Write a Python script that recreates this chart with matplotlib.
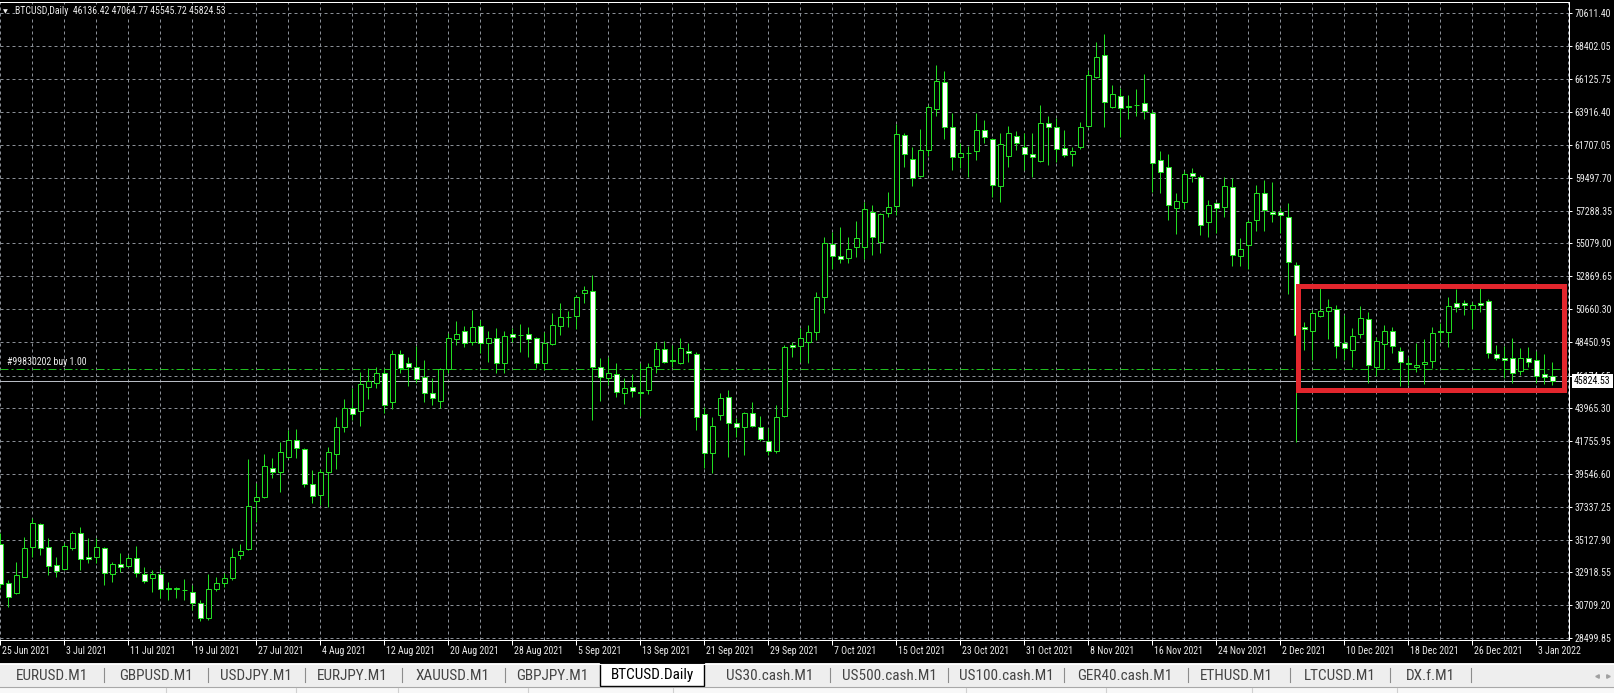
import datetime as dt
import matplotlib
matplotlib.use("Agg")
import matplotlib.pyplot as plt
from matplotlib.patches import Rectangle
from matplotlib import transforms
from matplotlib import font_manager as fm
import numpy as np

plt.rcParams['font.family'] = ['Liberation Sans', 'DejaVu Sans']

# ---------------- data ----------------
start_date = dt.date(2021, 6, 25)

opens = [34831, 32181, 31508, 32630, 34651, 36155, 34606, 33416, 33124, 34539,
         35549, 33933, 33933, 34539, 32787, 33461, 33371, 33865, 32787, 32518,
         32787, 31845, 31800, 31755, 31620, 30835, 29824, 31778, 32227, 32518,
         34090, 34472, 37749, 38019, 39972, 39702, 40668, 41850, 41229, 38849,
         38108, 39702, 40870, 42688, 43968, 43811, 45427, 45652, 46325, 44417,
         47605, 47043, 46729, 46056, 44978, 44484, 46594, 48660, 49154, 48413,
         49535, 48346, 48682, 47043, 48952, 48929, 48952, 48682, 46999, 48278,
         49535, 50142, 50209, 51713, 51893, 46774, 46033, 46258, 45023, 45382,
         45045, 45203, 46819, 47942, 47223, 46999, 47852, 47627, 43564, 40937,
         43519, 44753, 43003, 42733, 43676, 42733, 41790, 41117, 43452, 48234,
         48166, 48458, 49131, 51489, 55013, 54250, 54115, 54856, 54856, 57213,
         55193, 57101, 57595, 62355, 60738, 59616, 61367, 64105, 65969, 62938,
         60918, 61187, 61322, 62714, 62085, 58965, 60963, 62310, 61591, 61075,
         60648, 63162, 62938, 61479, 61075, 61591, 63005, 66261, 67765, 64240,
         65026, 64263, 64375, 64510, 63836, 60693, 60199, 57438, 57887, 59840,
         59571, 56495, 57775, 57505, 58897, 54227, 54968, 56652, 58448, 57213,
         57213, 56832, 53621, 49468, 49176, 50209, 50523, 50658, 48346, 47897,
         48974, 49984, 46774, 48278, 49199, 47852, 46999, 46774, 46931, 47156,
         49176, 49086, 51085, 51040, 50658, 51085, 51197, 47627, 47335, 47335,
         46482, 47380, 47223, 46258, 46136.42]
highs = [35549, 32406, 33641, 35325, 36559, 36268, 35212, 33978, 34876, 35729,
         35953, 35212, 35212, 34606, 33641, 34202, 34090, 34696, 33304, 33079,
         33192, 32294, 31957, 32451, 32069, 31059, 32787, 32630, 32900, 34539,
         34831, 40533, 38917, 40870, 40600, 41678, 42509, 42554, 41274, 39815,
         39860, 41341, 43406, 44574, 45360, 46437, 46662, 46729, 46662, 47897,
         47897, 47447, 48166, 47223, 45988, 46662, 49064, 49850, 49513, 50590,
         49917, 49176, 49356, 49176, 49356, 49648, 49423, 48750, 49131, 50366,
         51039, 50523, 51601, 52207, 52948, 47335, 47403, 47043, 45988, 46258,
         46999, 46999, 48458, 48525, 48234, 48683, 48346, 47784, 44080, 43406,
         44978, 45203, 43295, 43743, 44417, 43452, 42621, 44192, 48234, 48458,
         49356, 49580, 51827, 55530, 55866, 56158, 55530, 56607, 57887, 57662,
         57146, 58560, 63095, 62489, 61546, 62759, 64397, 67091, 66710, 63836,
         61815, 61636, 63836, 63387, 62152, 62534, 62983, 62646, 62489, 62489,
         64397, 63657, 63544, 62714, 61546, 63275, 66755, 68663, 69179, 65744,
         65565, 65071, 65475, 66485, 64060, 61299, 61075, 58448, 59952, 60132,
         59683, 57999, 57887, 59571, 59503, 55418, 56652, 59009, 59346, 59189,
         57438, 57819, 53846, 49805, 50591, 52050, 51309, 50927, 50254, 49356,
         50860, 50434, 48750, 49580, 49468, 48076, 47403, 48346, 48615, 49468,
         49693, 51444, 52005, 51264, 51152, 52050, 51309, 48233, 48166, 48682,
         48009, 48076, 47852, 47605, 47064.77]
lows = [31845, 30610, 31463, 32585, 33978, 34090, 32742, 32630, 33079, 34427,
        33079, 33529, 33574, 32069, 32294, 32967, 33304, 32585, 32181, 31620,
        31171, 31059, 31171, 31059, 30386, 29667, 29712, 31688, 31912, 32406,
        33798, 34427, 36335, 37906, 39254, 38355, 40600, 40600, 38647, 37615,
        37457, 37345, 39860, 42396, 43182, 42800, 44596, 45315, 43631, 43901,
        46325, 45472, 45697, 44417, 44192, 43968, 46370, 48233, 48076, 48233,
        47672, 47111, 46370, 46370, 48458, 47739, 47403, 46662, 46550, 48233,
        48907, 49423, 49289, 51040, 43182, 44484, 45539, 44754, 44259, 44754,
        43451, 44933, 46325, 47044, 46729, 46932, 47111, 42509, 39927, 39590,
        43183, 40712, 42060, 40825, 42733, 41790, 40825, 40982, 43362, 47448,
        47111, 46999, 48570, 50411, 53330, 53734, 53734, 54138, 54003, 54295,
        54407, 56877, 56966, 60244, 58942, 59571, 60963, 63657, 62085, 60020,
        60132, 59571, 60693, 61861, 58179, 57887, 60244, 61367, 60020, 59571,
        60581, 60356, 60581, 60918, 60311, 61412, 62938, 66193, 62938, 64173,
        62220, 63432, 63657, 63454, 58560, 58448, 56652, 55687, 57371, 59234,
        55642, 55485, 55754, 56877, 53554, 53554, 53330, 55934, 55934, 56540,
        55754, 51668, 41723, 47897, 47223, 50142, 48637, 47380, 47223, 46774,
        48727, 45697, 46146, 46595, 47717, 45472, 45539, 46437, 45607, 46662,
        48458, 48076, 50479, 50254, 49288, 50479, 47335, 47223, 45988, 45697,
        46213, 46729, 45652, 45584, 45545.72]
closes = [32137, 31239, 32742, 34539, 36223, 34539, 33349, 33035, 34696, 35549,
          33798, 33798, 34606, 32855, 33484, 33259, 33865, 32855, 32361, 32787,
          31778, 31778, 31868, 31710, 30835, 29824, 31778, 32227, 32518, 33933,
          34381, 37412, 37974, 40107, 39702, 41004, 41850, 41274, 38849, 38063,
          39657, 41004, 42688, 43968, 43564, 45607, 45809, 46370, 44192, 47605,
          46662, 46729, 45921, 44978, 44641, 46594, 48682, 48952, 48346, 49468,
          48346, 48682, 46999, 48862, 48750, 48907, 48615, 46999, 48346, 49580,
          50142, 50119, 51444, 51938, 46774, 46056, 46325, 45090, 45337, 45158,
          45000, 46774, 47942, 47111, 47156, 48009, 47672, 43362, 40937, 42778,
          44641, 42958, 42689, 43631, 42778, 41880, 41117, 43406, 48076, 48076,
          48683, 49131, 51443, 55126, 54250, 54003, 54677, 55462, 57393, 55485,
          57034, 57550, 62422, 61097, 59504, 61367, 64285, 66036, 62893, 60873,
          61142, 61150, 62714, 62220, 59009, 61771, 62489, 61816, 61075, 60873,
          63162, 62893, 61412, 61030, 61299, 62893, 66418, 67608, 64577, 65138,
          64173, 64308, 64420, 63993, 60469, 59907, 57662, 57954, 59750, 59615,
          56315, 57662, 57438, 58942, 54295, 54677, 56495, 58493, 57326, 57056,
          56989, 53846, 48907, 49288, 50366, 50546, 50770, 48166, 48009, 48862,
          50029, 46886, 48503, 49176, 48166, 47111, 46954, 46886, 47111, 49019,
          49131, 50882, 50815, 50927, 50927, 50927, 47672, 47335, 47223, 46325,
          47335, 47111, 46146, 46101, 45824.53]

price_labels = ["70611.40", "68402.05", "66125.75", "63916.40", "61707.05",
                "59497.70", "57288.35", "55079.00", "52869.65", "50660.30",
                "48450.95", "46174.65", "43965.30", "41755.95", "39546.60",
                "37337.25", "35127.90", "32918.55", "30709.20", "28499.85"]

symbol = "BTCUSD,Daily"
order_label = "#99830202 buy 1.00"
order_price = 46600.0
bid_price = 45824.53
box_bars = (162.2, 195.5)
box_prices = (45170.0, 52240.0)

tabs = ["EURUSD.M1", "GBPUSD.M1", "USDJPY.M1", "EURJPY.M1", "XAUUSD.M1",
        "GBPJPY.M1", "BTCUSD.Daily", "US30.cash.M1", "US500.cash.M1",
        "US100.cash.M1", "GER40.cash.M1", "ETHUSD.M1", "LTCUSD.M1", "DX.f.M1"]
active_tab = "BTCUSD.Daily"

# ---------------- fonts ----------------
_names = {f.name for f in fm.fontManager.ttflist}
_narrow = next((nm for nm in ['Liberation Sans Narrow', 'Roboto Condensed',
                              'Open Sans Condensed', 'Noto Sans Condensed']
                if nm in _names), None)
if _narrow:
    CHART_FP = fm.FontProperties(family=[_narrow, 'DejaVu Sans'], size=7.1)
    TAB_FP = fm.FontProperties(family=[_narrow, 'DejaVu Sans'], size=11.0)
else:
    CHART_FP = fm.FontProperties(family=['Liberation Sans', 'DejaVu Sans'], size=6.6)
    TAB_FP = fm.FontProperties(family=['Liberation Sans', 'DejaVu Sans'], size=9.5)

# ---------------- layout (pixels) ----------------
W, H, DPI = 1614, 693, 100
AX_RIGHT = 1569
AX_TOP, AX_BOT = 2, 640
BAR_PX = 8.0
BAR0_PX = 0.3
Y_TOP_PRICE = 71334.45
Y_BOT_PRICE = 28365.15
tab_centers = [52, 156, 256, 352, 452, 552, 652, 770, 889, 1006, 1125, 1236, 1340, 1430]
tab_seps = [104, 208, 305, 402, 505, 830, 948, 1064, 1188, 1290, 1390, 1471]
active_box = (600, 704)
bottom_seps = [166, 296, 398, 528, 673, 966, 1106, 1252, 1397]

GREEN = '#22dd22'
GRID = '#8a8f96'
TXT = '#ececec'

fig = plt.figure(figsize=(W / DPI, H / DPI), dpi=DPI)
fig.patch.set_facecolor('black')

# background / tab strip axes in pixel coordinates
bg = fig.add_axes([0, 0, 1, 1], zorder=0)
bg.set_xlim(0, W)
bg.set_ylim(H, 0)
bg.axis('off')
bg.add_patch(Rectangle((0, 663), W, 24, facecolor='#eeeeee', edgecolor='none'))
bg.plot([0, W], [663.5, 663.5], color='#ffffff', lw=0.8)
bg.add_patch(Rectangle((0, 687), W, 6, facecolor='#f8f8f8', edgecolor='none'))
bg.plot([0, W], [687, 687], color='#a8a8a8', lw=0.8)
for s in bottom_seps:
    bg.plot([s, s], [688, 693], color='#d0d0d0', lw=0.8)
for s in tab_seps:
    bg.plot([s, s], [668, 682], color='#8c8c8c', lw=0.8)
for name, cx in zip(tabs, tab_centers):
    if name == active_tab:
        bg.add_patch(Rectangle((active_box[0], 663), active_box[1] - active_box[0], 23,
                               facecolor='white', edgecolor='black', lw=1.0))
        bg.text(cx, 675.5, name, ha='center', va='center', fontproperties=TAB_FP,
                color='black')
    else:
        bg.text(cx, 675.5, name, ha='center', va='center', fontproperties=TAB_FP,
                color='#444444')
bg.plot([1597], [676], marker='<', ms=2.5, color='#a0a0a0', ls='none')
bg.plot([1608], [676], marker='>', ms=2.5, color='#a0a0a0', ls='none')

# main chart axes
ax = fig.add_axes([0, (H - AX_BOT) / H, AX_RIGHT / W, (AX_BOT - AX_TOP) / H], zorder=1)
ax.set_facecolor('black')
n = len(opens)
x = np.arange(n)
ax.set_xlim((0 - BAR0_PX) / BAR_PX, (AX_RIGHT - BAR0_PX) / BAR_PX)
ax.set_ylim(Y_BOT_PRICE, Y_TOP_PRICE)

for sp in ['top', 'right', 'bottom']:
    ax.spines[sp].set_color('white')
    ax.spines[sp].set_linewidth(0.72)
ax.spines['left'].set_visible(False)

price_vals = [float(s) for s in price_labels]
ax.yaxis.tick_right()
ax.set_yticks(price_vals)
ax.set_yticklabels(price_labels, fontproperties=CHART_FP)
ax.tick_params(axis='y', direction='out', length=2.2, width=0.72, colors='white',
               labelcolor=TXT, pad=2.0)

dates = [start_date + dt.timedelta(days=i) for i in range(n)]
label_idx = list(range(0, n, 8))
ax.set_xticks(label_idx)
ax.set_xticklabels([''] * len(label_idx))
ax.tick_params(axis='x', direction='out', length=3.6, width=0.72, colors='white')
lab_trans = transforms.offset_copy(ax.get_xaxis_transform(), fig=fig, x=2, y=0, units='dots')
ylab = -(651 - AX_BOT) / (AX_BOT - AX_TOP)
for i in label_idx:
    d = dates[i]
    ax.text(i, ylab, f"{d.day} {d.strftime('%b %Y')}", transform=lab_trans,
            ha='left', va='center', fontproperties=CHART_FP, color=TXT, clip_on=False)

# grid
for v in price_vals:
    ax.axhline(v, color=GRID, lw=0.72, ls=(0, (3, 3)), zorder=0.5)
for i in range(0, n + 2, 4):
    ax.axvline(i, color=GRID, lw=0.72, ls=(0, (3, 3)), zorder=0.5)

# order and bid lines
ax.axhline(order_price, color='#1fbf1f', lw=0.72, ls=(0, (8, 3, 2, 3)), zorder=1)
ax.axhline(bid_price, color='#b8bcc4', lw=0.72, zorder=1)
ax.text(0.0045, order_price, order_label, transform=transforms.offset_copy(
    ax.get_yaxis_transform(), fig=fig, x=0, y=2, units='dots'),
    ha='left', va='bottom', fontproperties=CHART_FP, color=TXT, zorder=2)

# candles
o = np.array(opens, float)
h = np.array(highs, float)
l = np.array(lows, float)
c = np.array(closes, float)
ax.vlines(x, l, h, color=GREEN, lw=0.72, zorder=3)
face = ['white' if cc < oo else 'black' for oo, cc in zip(o, c)]
ax.bar(x, np.abs(c - o), bottom=np.minimum(o, c), width=0.56, color=face,
       edgecolor=GREEN, linewidth=0.72, zorder=4)

# red highlight box
ax.add_patch(Rectangle((box_bars[0], box_prices[0]), box_bars[1] - box_bars[0],
                       box_prices[1] - box_prices[0], fill=False, edgecolor='#e3262d',
                       lw=3.6, joinstyle='miter', zorder=6))

# current price tag on axis
ax.text(1.0, bid_price, f"{bid_price:.2f}", transform=transforms.offset_copy(
    ax.get_yaxis_transform(), fig=fig, x=5, y=0, units='dots'),
    ha='left', va='center', fontproperties=CHART_FP, color='black', clip_on=False,
    zorder=10, bbox=dict(boxstyle='square,pad=0.2', facecolor='white', edgecolor='none'))

# header
hdr = f"{symbol}  {opens[-1]:.2f} {highs[-1]:.2f} {lows[-1]:.2f} {closes[-1]:.2f}"
fig.text(5.5 / W, 1 - 11.5 / H, "\u25bc", fontsize=4.5, color=TXT, ha='center', va='center',
         family=['DejaVu Sans'])
fig.text(15 / W, 1 - 11.5 / H, hdr, fontproperties=CHART_FP, color=TXT, ha='left',
         va='center', zorder=5,
         bbox=dict(boxstyle='square,pad=0.05', facecolor='black', edgecolor='none'))

fig.savefig('out.png', dpi=DPI, facecolor=fig.get_facecolor())
